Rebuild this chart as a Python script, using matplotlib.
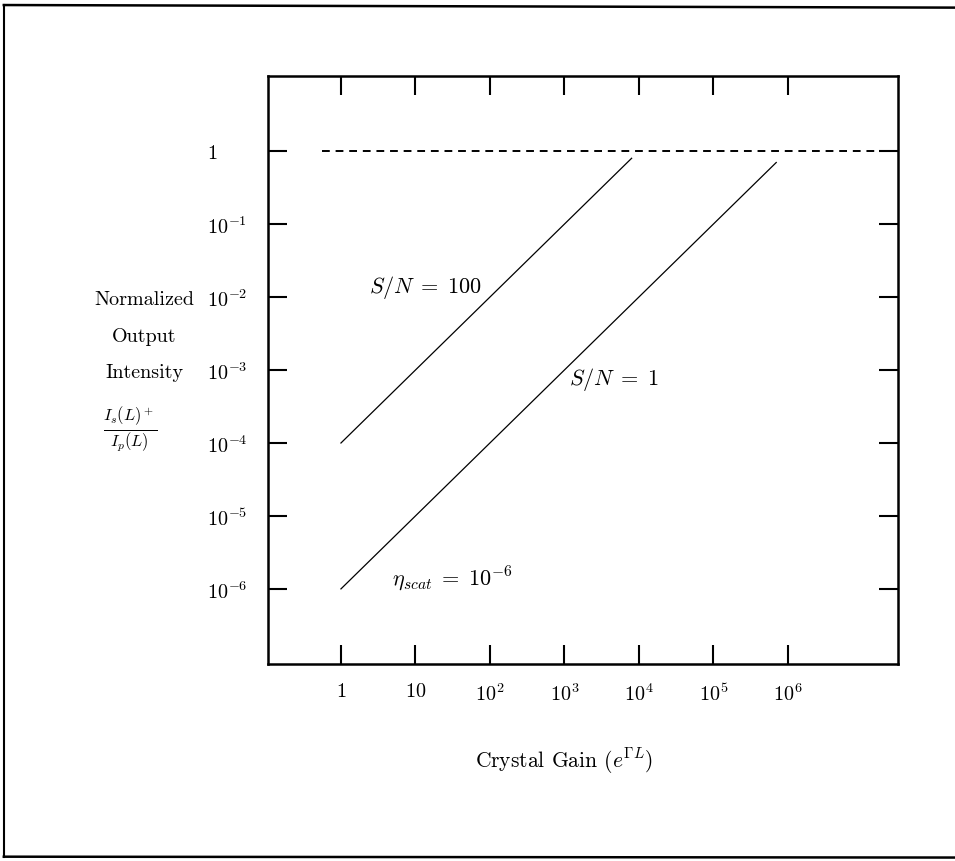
import numpy as np
import matplotlib
matplotlib.use("Agg")
from matplotlib import pyplot as plt
from matplotlib.lines import Line2D

plt.rcParams['mathtext.fontset'] = 'cm'
plt.rcParams['font.family'] = ['cmr10', 'DejaVu Serif']
plt.rcParams['axes.unicode_minus'] = False

# tick positions and labels
x_ticks = [1, 10, 1e2, 1e3, 1e4, 1e5, 1e6]
x_labels = ['$1$', '$10$', '$10^2$', '$10^3$', '$10^4$', '$10^5$', '$10^6$']
y_ticks = [1, 1e-1, 1e-2, 1e-3, 1e-4, 1e-5, 1e-6]
y_labels = ['$1$', '$10^{-1}$', '$10^{-2}$', '$10^{-3}$', '$10^{-4}$', '$10^{-5}$', '$10^{-6}$']

# curves (gain, normalized intensity)
sn100_x = [1, 8e3]
sn100_y = [1e-4, 0.8]
sn1_x = [1, 7e5]
sn1_y = [1e-6, 0.7]
limit_x = [0.55, 3e7]
limit_y = [1, 1]

fig = plt.figure(figsize=(9.55, 8.62), dpi=100)
ax = fig.add_axes([0.2806, 0.2285, 0.6597, 0.6821])
ax.set_xscale('log')
ax.set_yscale('log')
ax.set_xlim(10**-0.98, 10**7.48)
ax.set_ylim(10**-7.03, 10**1.03)

ax.plot(sn100_x, sn100_y, color='black', lw=0.9)
ax.plot(sn1_x, sn1_y, color='black', lw=0.9)
ax.plot(limit_x, limit_y, color='black', lw=1.4, ls=(0, (4, 3)))

ax.set_xticks(x_ticks)
ax.set_xticklabels(x_labels)
ax.set_yticks(y_ticks)
ax.set_yticklabels(y_labels, ha='left')
ax.minorticks_off()
ax.tick_params(axis='both', which='major', direction='in', length=14, width=1.5,
               top=True, right=True, labelsize=14.5)
ax.tick_params(axis='x', pad=13)
ax.tick_params(axis='y', pad=44)
for s in ax.spines.values():
    s.set_linewidth(1.8)

ax.text(10**1.14, 10**-1.85, '$S/N\\;=\\;100$', fontsize=16, ha='center', va='center')
ax.text(10**3.66, 10**-3.12, '$S/N\\;=\\;1$', fontsize=16, ha='center', va='center')
ax.text(10**1.49, 10**-5.85, '$\\eta_{scat}\\;=\\;10^{-6}$', fontsize=16, ha='center', va='center')

# y axis caption block
fig.text(0.151, 0.652, 'Normalized', fontsize=14.5, ha='center', va='center')
fig.text(0.151, 0.609, 'Output', fontsize=14.5, ha='center', va='center')
fig.text(0.151, 0.567, 'Intensity', fontsize=14.5, ha='center', va='center')
fig.text(0.136, 0.502, '$\\frac{I_s(L)^+}{I_p(L)}$', fontsize=17, ha='center', va='center')

fig.text(0.59, 0.117, 'Crystal Gain ($e^{\\Gamma L}$)', fontsize=15.5, ha='center', va='center')

# page border
fig.add_artist(Line2D([0.004, 0.004], [0.005, 0.993], color='black', lw=1.5, transform=fig.transFigure))
fig.add_artist(Line2D([0.004, 1.0], [0.993, 0.99], color='black', lw=1.8, transform=fig.transFigure))
fig.add_artist(Line2D([0.004, 1.0], [0.005, 0.004], color='black', lw=1.8, transform=fig.transFigure))

fig.savefig('out.png', dpi=100)
